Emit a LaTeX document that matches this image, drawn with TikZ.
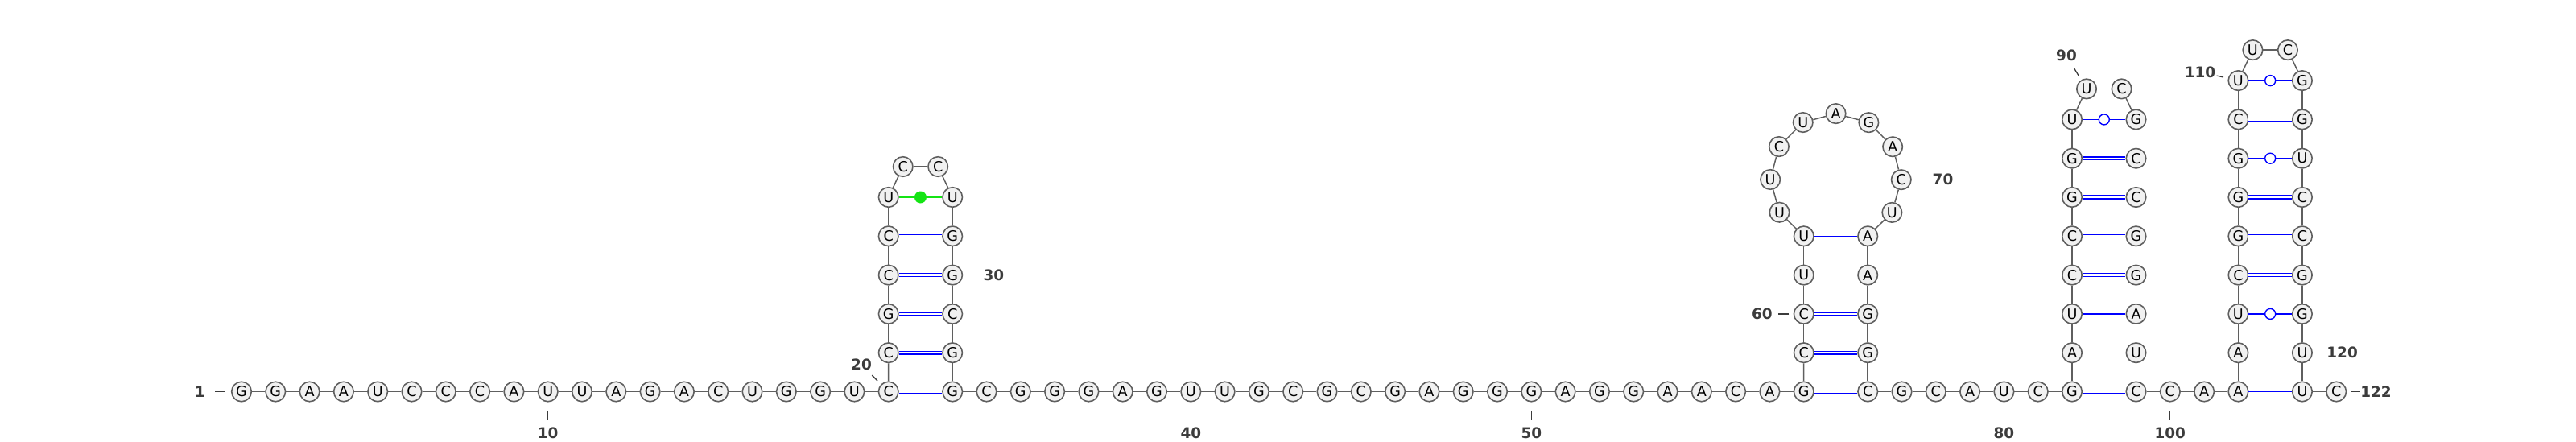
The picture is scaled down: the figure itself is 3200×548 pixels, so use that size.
\documentclass[tikz,border=0pt]{standalone}
\usepackage{fontspec}
\setmainfont{DejaVu Sans}
\usetikzlibrary{positioning}
\definecolor{ringgray}{RGB}{95,95,95}
\definecolor{basefill}{RGB}{241,241,241}
\definecolor{numgray}{RGB}{60,60,60}
\definecolor{pairblue}{RGB}{0,0,255}
\definecolor{oddgreen}{RGB}{20,228,20}

\begin{document}
\begin{tikzpicture}[x=0.5pt, y=0.5pt,
    nt/.style={circle, draw=ringgray, fill=basefill, line width=0.8pt, minimum size=12.25pt, inner sep=0pt, font=\fontsize{8.8}{8.8}\selectfont},
    bb/.style={draw=ringgray, line width=0.75pt},
    gc/.style={draw=pairblue, line width=0.7pt, double=white, double distance=1.2pt},
    au/.style={draw=pairblue, line width=0.7pt},
    gudot/.style={circle, draw=pairblue, fill=white, line width=0.7pt, inner sep=0pt, minimum size=6.5pt},
    numlab/.style={inner sep=0pt, text=numgray, font=\fontsize{9.2}{9.2}\selectfont\bfseries},
    tick/.style={draw=numgray, line width=0.65pt}
    ]

    \useasboundingbox (0,0) rectangle (3200,548);

    \foreach \b [count=\i] in {G,G,A,A,U,C,C,C,A,U,U,A,G,A,C,U,G,G,U,C}
        \node[nt] (n\i) at ({300+(\i-1)*42.3},61.5) {\b};
    \foreach \b [count=\i from 21] in {C,G,C,C,U}
        \node[nt] (n\i) at (1103.7,{61.5+(\i-20)*48.3}) {\b};
    \node[nt] (n26) at (1121.7,341) {C};
    \node[nt] (n27) at (1165.2,341) {C};
    \foreach \b [count=\i from 28] in {U,G,G,C,G}
        \node[nt] (n\i) at (1183.2,{61.5+(33-\i)*48.3}) {\b};

    \foreach \b [count=\i from 33] in {G,C,G,G,G,A,G,U,U,G,C,G,C,G,A,G,G,G,A,G,G,A,A,C,A,G}
        \node[nt] (n\i) at ({1183.2+(\i-33)*42.3},61.5) {\b};
    \foreach \b [count=\i from 59] in {C,C,U,U}
        \node[nt] (n\i) at (2240.7,{61.5+(\i-58)*48.3}) {\b};
    \foreach \b [count=\i from 63] in {U,U,C,U,A,G,A,C,U}
        \node[nt] (n\i) at ({2280.45+81.3*cos(240.73-(\i-62)*30.16)},{325.6+81.3*sin(240.73-(\i-62)*30.16)}) {\b};
    \foreach \b [count=\i from 72] in {A,A,G,G}
        \node[nt] (n\i) at (2320.2,{61.5+(76-\i)*48.3}) {\b};

    \foreach \b [count=\i from 76] in {C,G,C,A,U,C,G}
        \node[nt] (n\i) at ({2320.2+(\i-76)*42.3},61.5) {\b};
    \foreach \b [count=\i from 83] in {A,U,C,C,G,G,U}
        \node[nt] (n\i) at (2574,{61.5+(\i-82)*48.3}) {\b};
    \node[nt] (n90) at (2592,437.6) {U};
    \node[nt] (n91) at (2635.5,437.6) {C};
    \foreach \b [count=\i from 92] in {G,C,C,G,G,A,U}
        \node[nt] (n\i) at (2653.5,{61.5+(99-\i)*48.3}) {\b};

    \foreach \b [count=\i from 99] in {C,C,A,A}
        \node[nt] (n\i) at ({2653.5+(\i-99)*42.3},61.5) {\b};
    \foreach \b [count=\i from 103] in {A,U,C,G,G,G,C,U}
        \node[nt] (n\i) at (2780.4,{61.5+(\i-102)*48.3}) {\b};
    \node[nt] (n111) at (2798.4,485.9) {U};
    \node[nt] (n112) at (2841.9,485.9) {C};
    \foreach \b [count=\i from 113] in {G,G,U,C,C,G,G,U}
        \node[nt] (n\i) at (2859.9,{61.5+(121-\i)*48.3}) {\b};
    \foreach \b [count=\i from 121] in {U,C}
        \node[nt] (n\i) at ({2859.9+(\i-121)*42.3},61.5) {\b};

    \foreach \i [evaluate=\i as \j using int(\i+1)] in {1,...,121}
        \draw[bb] (n\i) -- (n\j);

    \foreach \a/\b in {20/33,21/32,22/31,23/30,24/29,58/76,59/75,60/74,82/99,85/96,86/95,87/94,88/93,105/118,106/117,107/116,109/114}
        \draw[gc] (n\a) -- (n\b);
    \foreach \a/\b in {61/73,62/72,83/98,84/97,102/121,103/120}
        \draw[au] (n\a) -- (n\b);
    \foreach \a/\b in {89/92,104/119,108/115,110/113}
        \draw[au] (n\a) -- (n\b) node[midway, gudot] (gu\a) {};
    \draw[draw=oddgreen, line width=0.7pt] (n25) -- (n28) node[midway, circle, fill=oddgreen, inner sep=0pt, minimum size=7.5pt] (odd25) {};

    \node[numlab, left=16pt of n1] (l1) {1};
    \node[numlab, below=15.5pt of n10] (l10) {10};
    \node[numlab] (l20) at (1070,95) {20};
    \node[numlab, right=12.5pt of n30] (l30) {30};
    \node[numlab, below=15.5pt of n40] (l40) {40};
    \node[numlab, below=15.5pt of n50] (l50) {50};
    \node[numlab, left=12.75pt of n60] (l60) {60};
    \node[numlab, right=12.75pt of n70] (l70) {70};
    \node[numlab, below=15.5pt of n80] (l80) {80};
    \node[numlab] (l90) at (2567,479) {90};
    \node[numlab, below=15.5pt of n100] (l100) {100};
    \node[numlab] (l110) at (2733,458.5) {110};
    \node[numlab, right=8.5pt of n120] (l120) {120};
    \node[numlab, right=8.3pt of n122] (l122) {122};

    \draw[tick, shorten <=3.5pt, shorten >=5.8pt] (n1) -- (l1);
    \foreach \k in {10,40,50,80,100}
        \draw[tick, shorten <=5.1pt, shorten >=4.4pt] (n\k) -- (l\k);
    \foreach \k in {30,60,70}
        \draw[tick, shorten <=2.7pt, shorten >=3.5pt] (n\k) -- (l\k);
    \draw[tick, shorten <=3.1pt, shorten >=4.1pt] (n20) -- (l20);
    \draw[tick, shorten <=3.2pt, shorten >=4.7pt] (n90) -- (l90);
    \draw[tick, shorten <=2.9pt, shorten >=0.5pt] (n110) -- (l110);
    \draw[tick, shorten <=3pt, shorten >=0.3pt] (n120) -- (l120);
    \draw[tick, shorten <=2.75pt] (n122) -- (l122);

\end{tikzpicture}
\end{document}
